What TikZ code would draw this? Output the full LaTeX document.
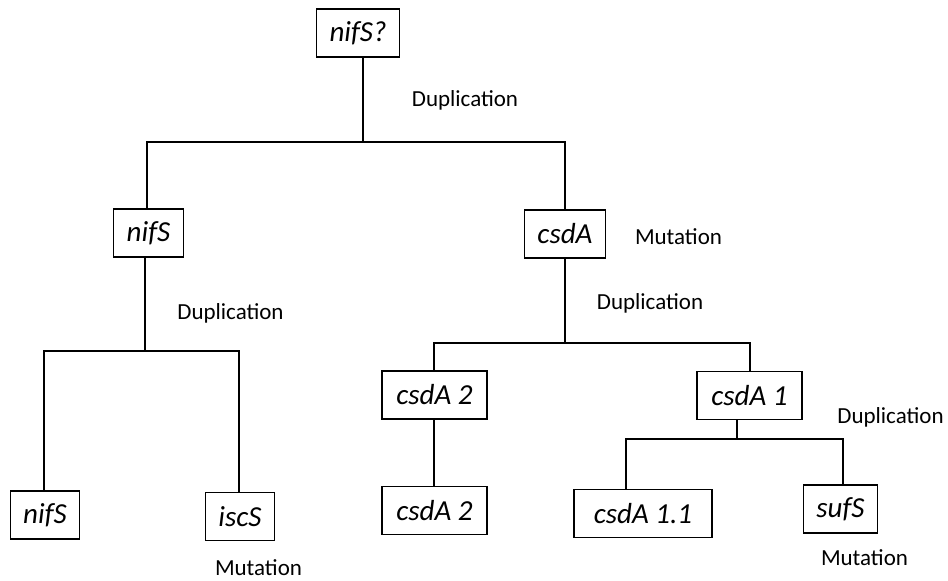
\documentclass[tikz,border=0pt]{standalone}
\usepackage{fontspec}
\setmainfont{Carlito}
\tikzset{
gene/.style={
	  draw, line width=1.4pt, inner xsep=13pt, minimum height=48pt,
	    font=\fontsize{29}{32}\selectfont\itshape},
event/.style={font=\fontsize{23}{26}\selectfont}
}

\begin{document}
\begin{tikzpicture}[x=1pt, y=-1pt, line width=1.4pt]
	\useasboundingbox (0,0) rectangle (948,581);
	\node[gene] (root) at (358,33) {nifS?};
	\node[gene] (nifSa) at (148.5,233) {nifS};
	\node[gene] (csdA) at (565,234) {csdA};
	\node[gene] (nifSb) at (45,515) {nifS};
	\node[gene] (iscS) at (240,516.5) {iscS};
	\node[gene, minimum width=105pt] (csdAtwo) at (434.5,395) {csdA 2};
	\node[gene, minimum width=105pt] (csdAtwob) at (434.5,510.5) {csdA 2};
	\node[gene, minimum width=105pt] (csdAone) at (749.5,395.5) {csdA 1};
	\node[gene, minimum width=138pt] (csdAoneone) at (643,513.5) {csdA 1.1};
	\node[gene] (sufS) at (840.5,509) {sufS};

	\node[event] (dupa) at (465,100) {Duplication};
	\node[event] (dupb) at (230.5,313) {Duplication};
	\node[event] (muta) at (678.5,237) {Mutation};
	\node[event] (dupc) at (650,303) {Duplication};
	\node[event] (dupd) at (890.5,417) {Duplication};
	\node[event] (mutb) at (258.5,568) {Mutation};
	\node[event] (mutc) at (864.5,558) {Mutation};

	\coordinate (ja) at (363,142);
	\coordinate (la) at (147,142);
	\coordinate (ra) at (565,142);
	\coordinate (jb) at (145,351);
	\coordinate (lb) at (44,351);
	\coordinate (rb) at (239,351);
	\coordinate (jc) at (565,343);
	\coordinate (lc) at (434,343);
	\coordinate (rc) at (750,343);
	\coordinate (jd) at (737,439);
	\coordinate (ld) at (626,439);
	\coordinate (rd) at (843,439);

	\draw (root.south -| ja) -- (ja);
	\draw (nifSa.north -| la) -- (la) -- (ra) -- (csdA.north -| ra);
	\draw (nifSa.south -| jb) -- (jb);
	\draw (nifSb.north -| lb) -- (lb) -- (rb) -- (iscS.north -| rb);
	\draw (csdA.south -| jc) -- (jc);
	\draw (csdAtwo.north -| lc) -- (lc) -- (rc) -- (csdAone.north -| rc);
	\draw (csdAtwo.south -| lc) -- (csdAtwob.north -| lc);
	\draw (csdAone.south -| jd) -- (jd);
	\draw (csdAoneone.north -| ld) -- (ld) -- (rd) -- (sufS.north -| rd);
\end{tikzpicture}
\end{document}
